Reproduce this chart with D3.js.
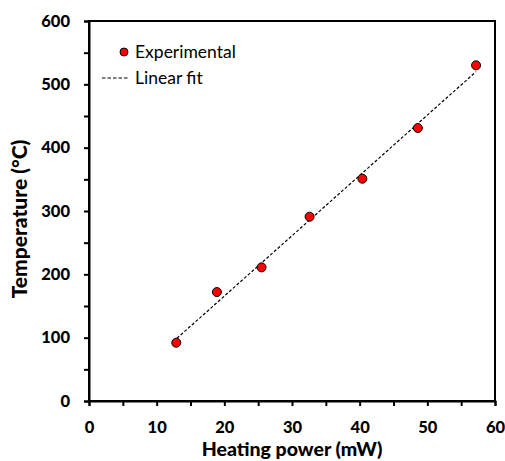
<!DOCTYPE html>
<html><head><meta charset="utf-8">
<script src="https://cdn.jsdelivr.net/npm/d3@7"></script>
<style>
body{margin:0;background:#fff;}
text{font-family:Lato,"Open Sans",sans-serif;}
</style></head>
<body><svg id="c" width="505" height="461"></svg>
<script>
const powerMW = [12.9, 18.9, 25.5, 32.6, 40.4, 48.6, 57.2];
const tempC   = [92, 172, 211, 291, 351, 431, 530];
const fitX = [13.0, 57.2];
const fitY = [99, 520];
const xTicks = [0, 10, 20, 30, 40, 50, 60];
const yTicks = [0, 100, 200, 300, 400, 500, 600];
const xTitle = "Heating power (mW)";
const yTitle = "Temperature (°C)";
const legendLabels = ["Experimental", "Linear fit"];

const svg = d3.select("#c");
const L = 89, R = 495, T = 21, B = 401;
const x = d3.scaleLinear().domain([0, 60]).range([L, R]);
const y = d3.scaleLinear().domain([0, 600]).range([B, T]);

svg.append("rect").attr("x", L).attr("y", T).attr("width", R - L).attr("height", B - T)
  .attr("fill", "none").attr("stroke", "#000").attr("stroke-width", 2);

const xAxis = svg.append("g").attr("transform", `translate(0,${B})`)
  .call(d3.axisBottom(x).tickValues(d3.range(0, 61, 5)).tickSize(5)
    .tickFormat(d => xTicks.includes(d) ? d : ""));
xAxis.select(".domain").attr("stroke-width", 2);
xAxis.selectAll(".tick line").attr("stroke-width", 2);
xAxis.selectAll("text").attr("font-size", 16.5).attr("font-weight", 900).attr("fill", "#000")
  .attr("y", 0).attr("dy", 0).attr("transform", "translate(0,31.5)");

const yAxis = svg.append("g").attr("transform", `translate(${L},0)`)
  .call(d3.axisLeft(y).tickValues(d3.range(0, 601, 50)).tickSize(5)
    .tickFormat(d => yTicks.includes(d) ? d : ""));
yAxis.select(".domain").attr("stroke-width", 2);
yAxis.selectAll(".tick line").attr("stroke-width", 2);
yAxis.selectAll("text").attr("font-size", 16.5).attr("font-weight", 900).attr("fill", "#000").attr("x", -19);

svg.append("line")
  .attr("x1", x(fitX[0])).attr("y1", y(fitY[0]))
  .attr("x2", x(fitX[1])).attr("y2", y(fitY[1]))
  .attr("stroke", "#000").attr("stroke-width", 1.2).attr("stroke-dasharray", "3,2");

svg.selectAll("circle.pt").data(powerMW).enter().append("circle")
  .attr("class", "pt")
  .attr("cx", d => x(d)).attr("cy", (d, i) => y(tempC[i]))
  .attr("r", 4.5).attr("fill", "#ff0000").attr("stroke", "#000").attr("stroke-width", 1);

svg.append("text").attr("x", 292).attr("y", 456).attr("text-anchor", "middle")
  .attr("font-size", 19.5).attr("font-weight", 900).text(xTitle);
svg.append("text").attr("transform", "translate(27,219) rotate(-90)").attr("text-anchor", "middle")
  .attr("font-size", 21).attr("font-weight", 900).text(yTitle);

svg.append("circle").attr("cx", 124).attr("cy", 52).attr("r", 4)
  .attr("fill", "#ff0000").attr("stroke", "#000").attr("stroke-width", 1);
svg.append("text").attr("x", 135).attr("y", 58).attr("font-size", 17.5).text(legendLabels[0]);
svg.append("line").attr("x1", 102).attr("x2", 129).attr("y1", 78).attr("y2", 78)
  .attr("stroke", "#000").attr("stroke-width", 1.2).attr("stroke-dasharray", "3.5,2");
svg.append("text").attr("x", 135).attr("y", 84).attr("font-size", 17.5).text(legendLabels[1]);
</script></body></html>
